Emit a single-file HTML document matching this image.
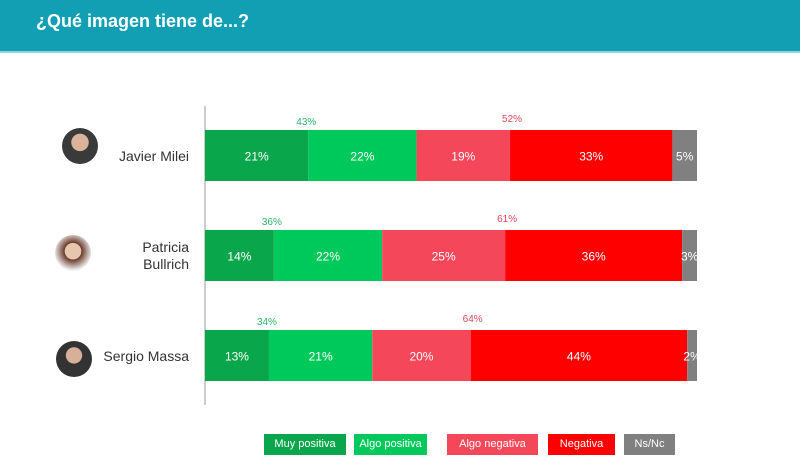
<!DOCTYPE html>
<html><head><meta charset="utf-8"><style>
body{margin:0;width:800px;height:473px;background:#fff;font-family:"Liberation Sans",sans-serif;overflow:hidden;position:relative}
.hdr{position:absolute;left:0;top:0;width:800px;height:51px;background:#129fb3;border-bottom:2px solid #8fd3dc}
.hdr span{position:absolute;left:36px;top:11px;color:#fff;font-weight:bold;font-size:18px}
.name{position:absolute;right:611px;text-align:right;font-size:14px;color:#333;line-height:17px}
.av{position:absolute;width:36px;height:36px;border-radius:50%;background:radial-gradient(circle at 50% 40%,#d9b49a 0 30%,#3a3a3a 32%);}
.leg{position:absolute;top:434px;height:21px;color:#fff;font-size:11px;line-height:21px;text-align:center}
</style></head><body>
<div class="hdr"><span>¿Qué imagen tiene de...?</span></div>
<div class="av" style="left:62px;top:128px"></div>
<div class="av" style="left:55px;top:235px;background:radial-gradient(circle at 50% 45%,#e8c5ad 0 30%,#6a3a2a 32%,#eee 70%)"></div>
<div class="av" style="left:56px;top:341px;background:radial-gradient(circle at 50% 40%,#d8b09a 0 28%,#333 30%)"></div>
<div class="name" style="top:148px">Javier Milei</div>
<div class="name" style="top:239px">Patricia<br>Bullrich</div>
<div class="name" style="top:348px">Sergio Massa</div>
<svg id="chart" width="800" height="473" style="position:absolute;left:0;top:0">
<line x1="205" y1="106" x2="205" y2="405" stroke="#999" stroke-width="1"/>
</svg>
<div class="leg" style="left:264px;width:82px;background:#0aa64c">Muy positiva</div>
<div class="leg" style="left:354px;width:73px;background:#00c95c">Algo positiva</div>
<div class="leg" style="left:447px;width:91px;background:#f5475a">Algo negativa</div>
<div class="leg" style="left:548px;width:67px;background:#ff0000">Negativa</div>
<div class="leg" style="left:624px;width:51px;background:#808080">Ns/Nc</div>
<script>
const people=["Milei","Bullrich","Massa"];
const muyPos=[21,14,13];
const algoPos=[22,22,21];
const algoNeg=[19,25,20];
const neg=[33,36,44];
const nsnc=[5,3,2];
const colors=["#0aa64c","#00c95c","#f5475a","#ff0000","#808080"];
const series=[muyPos,algoPos,algoNeg,neg,nsnc];
const x0=205,pxPer=4.92;
const X=v=>x0+v*pxPer;
const rowTop=[130,230,330],barH=51;
const svg=document.getElementById('chart');
const NS="http://www.w3.org/2000/svg";
people.forEach((p,i)=>{
  let acc=0;
  series.forEach((s,k)=>{
    const v=s[i];
    const r=document.createElementNS(NS,'rect');
    r.setAttribute('x',X(acc));r.setAttribute('y',rowTop[i]);
    r.setAttribute('width',v*pxPer);r.setAttribute('height',barH);
    r.setAttribute('fill',colors[k]);
    
    
    svg.appendChild(r);
    const t=document.createElementNS(NS,'text');
    t.setAttribute('x',X(acc+v/2));t.setAttribute('y',rowTop[i]+barH/2+5);
    t.setAttribute('text-anchor','middle');t.setAttribute('fill','#fff');t.setAttribute('font-size','12');
    t.textContent=v+'%';
    
    
    svg.appendChild(t);
    acc+=v;
  });
  const pos=muyPos[i]+algoPos[i], ng=algoNeg[i]+neg[i];
  const a=document.createElementNS(NS,'text');
  a.setAttribute('x',X(muyPos[i])-2);a.setAttribute('y',rowTop[i]-5);
  a.setAttribute('text-anchor','middle');a.setAttribute('fill','#2db36a');a.setAttribute('font-size','10');
  a.textContent=pos+'%';
  
  
  svg.appendChild(a);
  const b=document.createElementNS(NS,'text');
  b.setAttribute('x',X(muyPos[i]+algoPos[i]+algoNeg[i])+2);b.setAttribute('y',rowTop[i]-8);
  b.setAttribute('text-anchor','middle');b.setAttribute('fill','#e0475a');b.setAttribute('font-size','10');
  b.textContent=ng+'%';
  
  
  svg.appendChild(b);
});
</script>
</body></html>
